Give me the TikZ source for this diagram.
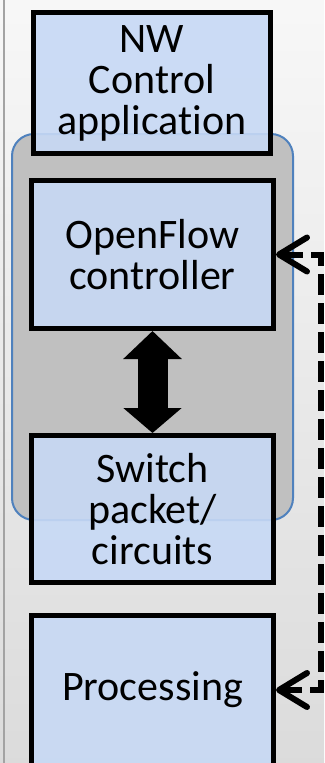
\documentclass[tikz,border=0pt]{standalone}
\usepackage{fontspec}
\setmainfont[Ligatures={NoCommon,NoDiscretionary}]{Carlito}
\usetikzlibrary{arrows.meta}
\definecolor{boxblue}{HTML}{C7D9F5}
\definecolor{ctrlgray}{HTML}{C0C0C0}
\definecolor{ctrledge}{HTML}{4F81BD}
\tikzset{
  block/.style={draw=black, line width=5pt, fill=boxblue, fill opacity=0.9,
    text opacity=1, align=center, inner sep=0pt,
    font=\fontsize{42}{41}\selectfont},
  ctrlarea/.style={draw=ctrledge, line width=2pt, fill=ctrlgray,
    rounded corners=22pt, inner sep=0pt},
  barb/.tip={Straight Barb[length=28pt, width=34pt, line width=6pt, round]},
  signal/.style={line width=6pt, dash pattern=on 21pt off 8pt, barb-barb},
  bus/.style={line width=30pt,
    {Triangle[length=28pt, width=57pt]}-{Triangle[length=25pt, width=57pt]}}
}
\begin{document}
\begin{tikzpicture}[x=1pt, y=-1pt]
  \useasboundingbox (0,0) rectangle (324,763);
  \clip (0,0) rectangle (324,763);
  % backdrop
  \shade[top color=white!97!black, bottom color=white!86!black] (0,0) rectangle (324,763);
  \draw[line width=2pt, color=white!64!black] (4,0) -- (4,763);

  % controller platform
  \node[ctrlarea, minimum width=281pt, minimum height=386pt] (platform) at (152.5,327) {};

  % layers
  \node[block, minimum width=237pt, minimum height=141pt] (app) at (152,83)
    {NW\\Control\\application};
  \node[block, minimum width=242pt, minimum height=148pt] (ofc) at (152.5,254.5)
    {OpenFlow\\controller};
  \node[block, minimum width=242pt, minimum height=147pt] (sw) at (152.5,509)
    {Switch\\packet/\\circuits};
  \node[block, minimum width=242pt, minimum height=150pt] (proc) at (152.5,690)
    {Processing};

  % control channel between controller and switch
  \draw[bus] (ofc.south) -- (sw.north);

  % feedback loop on the right
  \coordinate (loop) at (320.5,0);
  \draw[signal] (ofc.east) -- (ofc.east -| loop) -- (proc.east -| loop) -- (proc.east);
\end{tikzpicture}
\end{document}
